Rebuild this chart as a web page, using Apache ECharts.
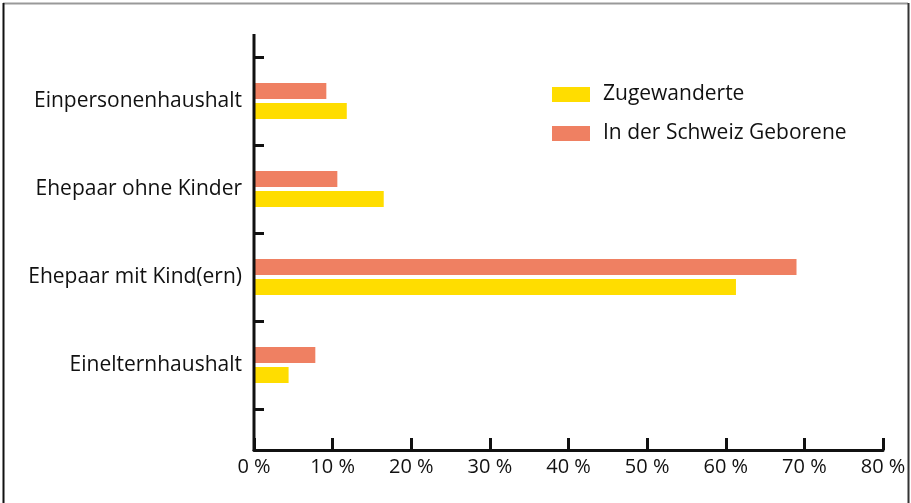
<!DOCTYPE html>
<html>
<head>
<meta charset="utf-8">
<script src="https://cdn.jsdelivr.net/npm/echarts@6/dist/echarts.min.js"></script>
<style>
  html, body { margin: 0; padding: 0; background: #fff; }
  #container { width: 911px; height: 503px; }
</style>
</head>
<body>
<div id="container"></div>
<script>
// categories listed bottom to top (category axis runs upward)
var categories = ['Einelternhaushalt', 'Ehepaar mit Kind(ern)', 'Ehepaar ohne Kinder', 'Einpersonenhaushalt'];
var seriesNames = ['Zugewanderte', 'In der Schweiz Geborene'];
var zugewanderte = [4.4, 61.3, 16.5, 11.8];
var geborene = [7.8, 69.0, 10.6, 9.2];
var xTicks = [0, 10, 20, 30, 40, 50, 60, 70, 80];

var fontFamily = '"Open Sans", "Noto Sans", sans-serif';

var myChart = echarts.init(document.getElementById('container'));

var option = {
	animation: false,
	backgroundColor: '#fff',
	grid: {
		left: 254,
		right: 28,
		top: 57,
		bottom: 94
	},
	legend: {
		orient: 'vertical',
		left: 552,
		top: 84,
		padding: 0,
		itemWidth: 38,
		itemHeight: 15,
		itemGap: 18,
		icon: 'rect',
		textStyle: {
			fontFamily: fontFamily,
			fontSize: 21,
			lineHeight: 15,
			color: '#111',
			padding: [0, 0, 0, 8]
		},
		data: seriesNames
	},
	xAxis: {
		type: 'value',
		min: xTicks[0],
		max: xTicks[xTicks.length - 1],
		interval: 10,
		offset: 41,
		splitLine: { show: false },
		axisLine: { show: true, lineStyle: { color: '#111', width: 3 } },
		axisTick: { show: true, inside: true, length: 12, lineStyle: { color: '#111', width: 3 } },
		axisLabel: {
			margin: 7,
			fontFamily: fontFamily,
			fontSize: 20,
			color: '#111',
			formatter: function (v) { return v + ' %'; }
		}
	},
	yAxis: {
		type: 'category',
		data: categories,
		axisLine: { show: false },
		axisTick: { show: true, inside: true, length: 10, lineStyle: { color: '#111', width: 3 } },
		axisLabel: {
			margin: 12,
			fontFamily: fontFamily,
			fontSize: 21,
			color: '#111'
		}
	},
	graphic: [
		// y axis line, taller than the category band area
		{ type: 'line', shape: { x1: 254, y1: 34, x2: 254, y2: 451 }, style: { stroke: '#111', lineWidth: 3 }, z: 100 },
		// frame
		{ type: 'line', shape: { x1: 3, y1: 3.5, x2: 908, y2: 3.5 }, style: { stroke: '#999', lineWidth: 2 } },
		{ type: 'line', shape: { x1: 3.5, y1: 3, x2: 3.5, y2: 503 }, style: { stroke: '#111', lineWidth: 2 } },
		{ type: 'line', shape: { x1: 908.5, y1: 3, x2: 908.5, y2: 503 }, style: { stroke: '#333', lineWidth: 2 } }
	],
	series: [
		{
			name: seriesNames[1],
			type: 'bar',
			data: geborene,
			barWidth: 16,
			barGap: '25%',
			itemStyle: { color: '#EF8062' }
		},
		{
			name: seriesNames[0],
			type: 'bar',
			data: zugewanderte,
			barWidth: 16,
			barGap: '25%',
			itemStyle: { color: '#FFDD00' }
		}
	]
};

myChart.setOption(option);
</script>
</body>
</html>
